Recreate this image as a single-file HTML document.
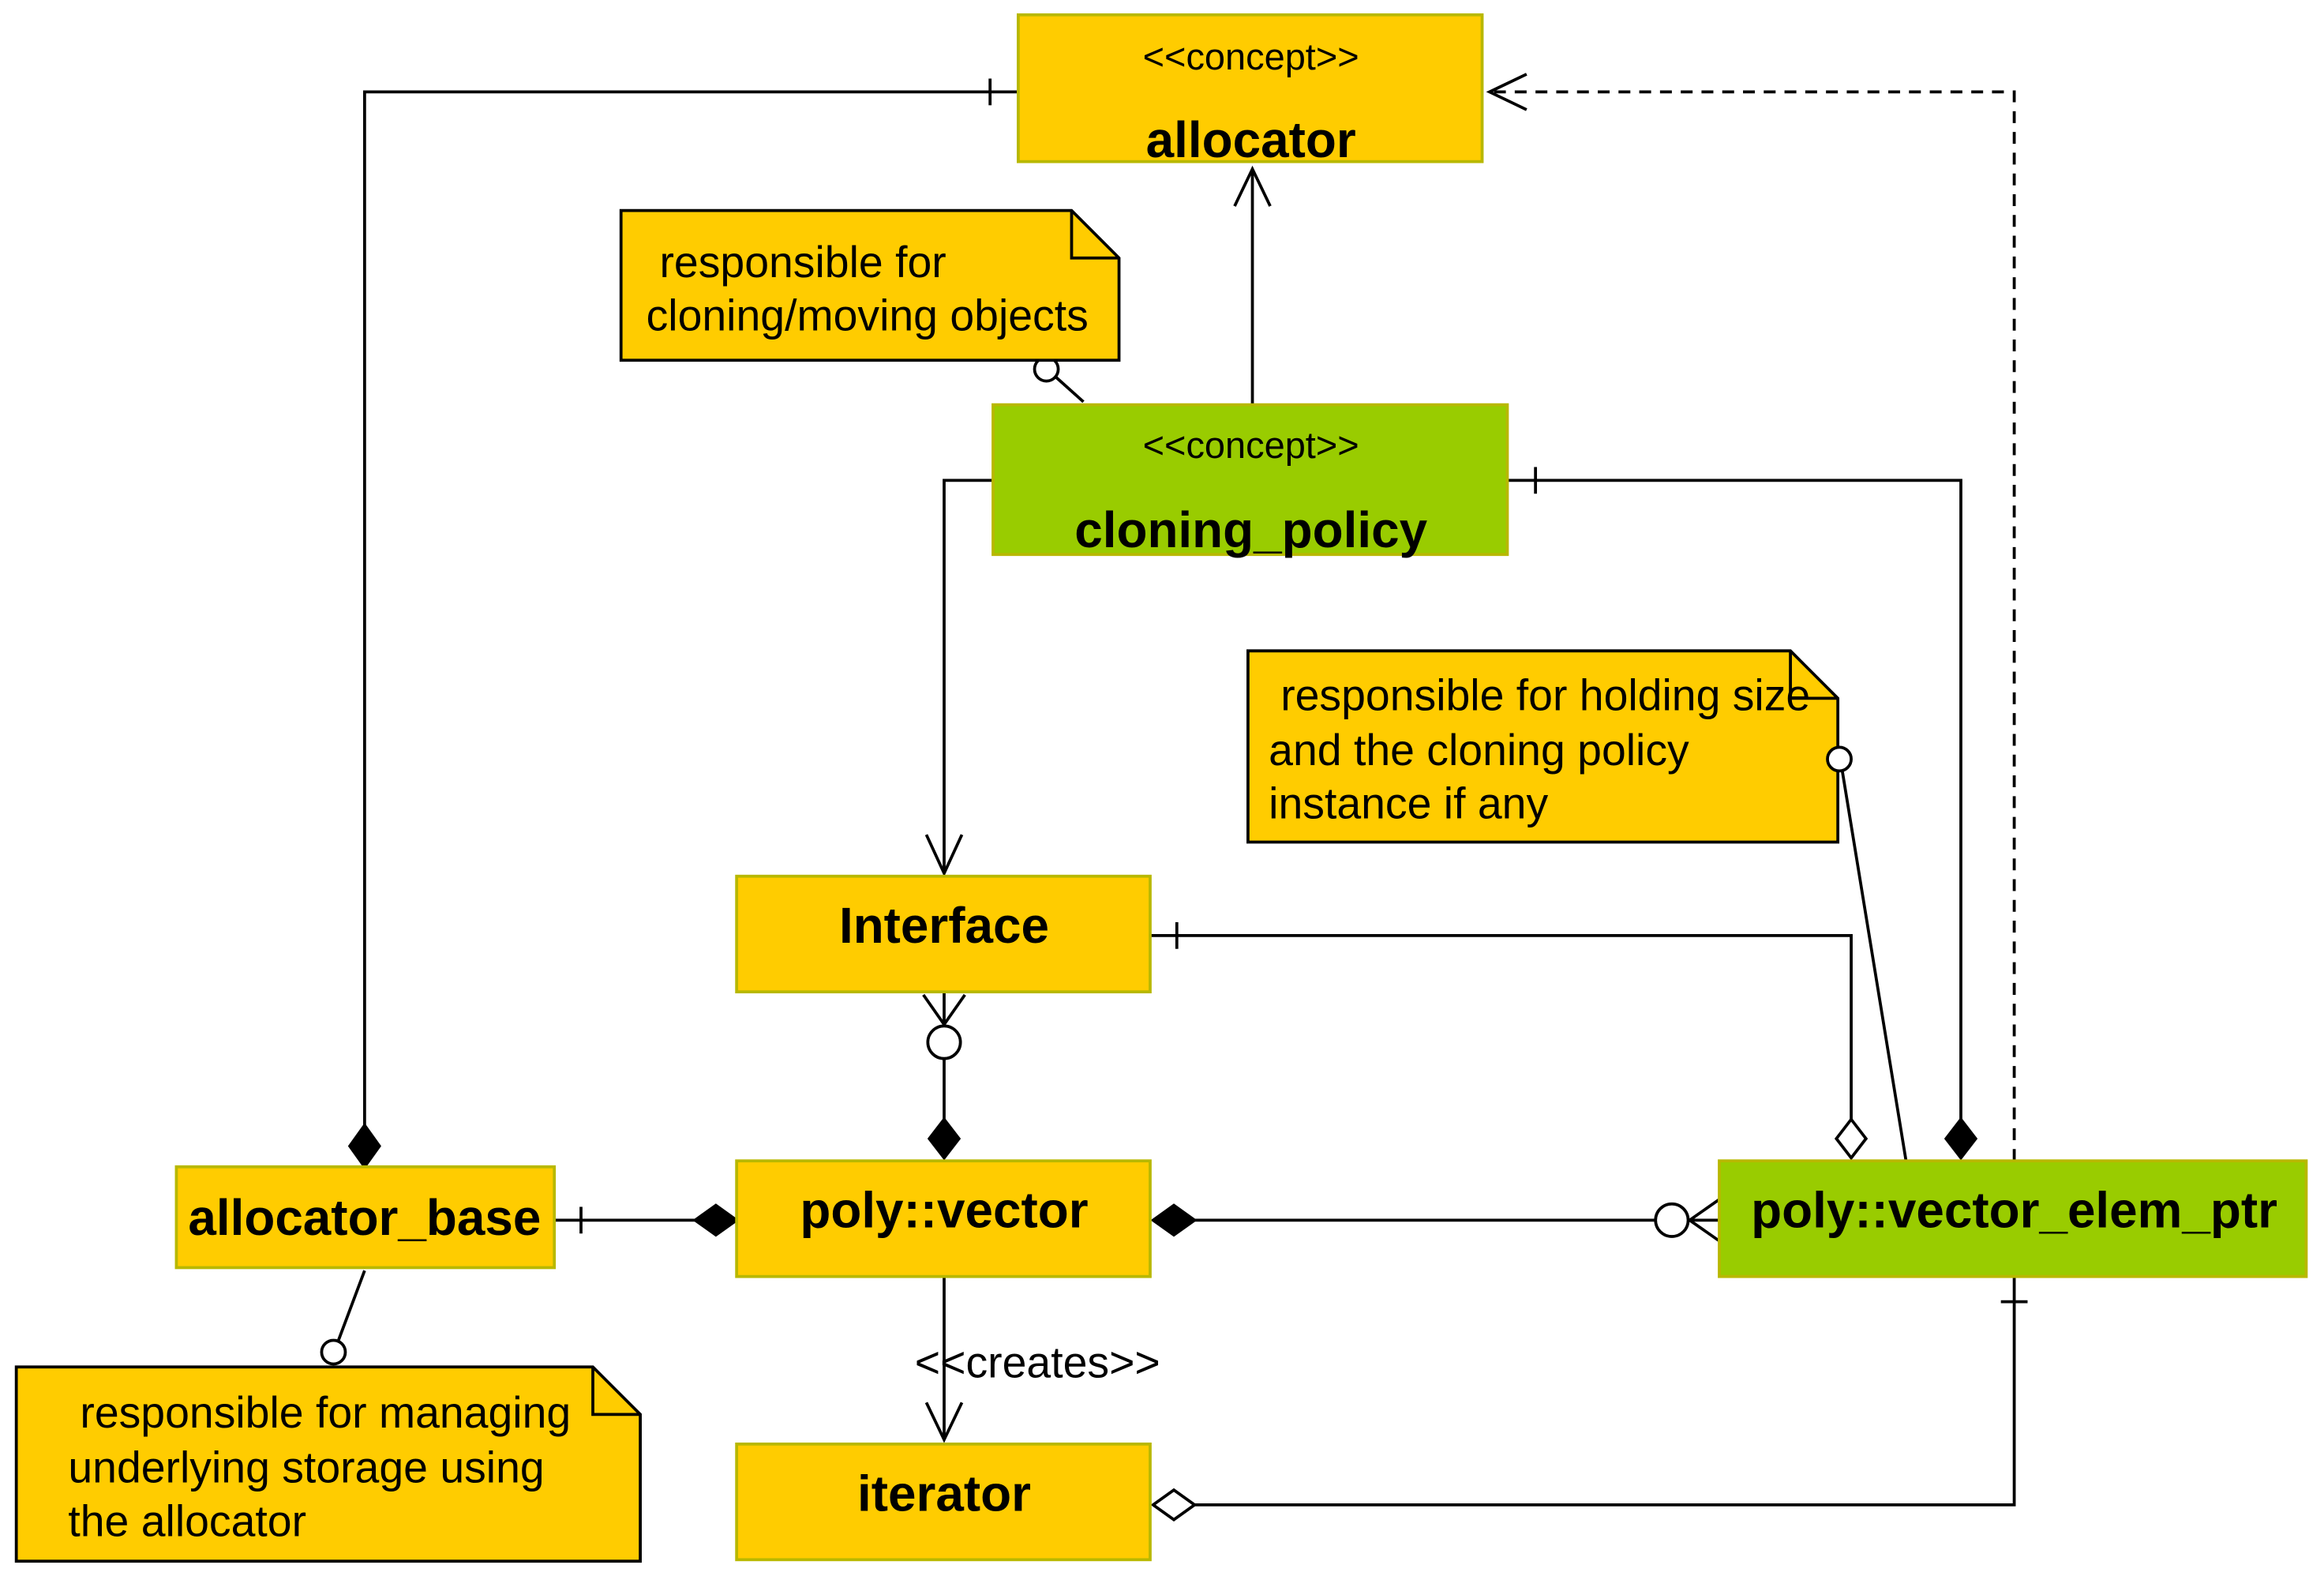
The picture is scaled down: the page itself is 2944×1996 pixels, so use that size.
<!DOCTYPE html>
<html><head><meta charset="utf-8"><style>
html,body{margin:0;padding:0;background:#fff;}
svg{display:block;}
text{font-family:"Liberation Sans",Arial,sans-serif;fill:#000;}
</style></head><body>
<svg width="2944" height="1996" viewBox="0 0 1568 1063" preserveAspectRatio="none" xmlns="http://www.w3.org/2000/svg">
<g stroke="#000" stroke-width="2" fill="none">
<polyline points="246,760 246,62 687,62"/>
<line x1="668" y1="53" x2="668" y2="71"/>
<polygon points="246,787 236,773 246,759 256,773" fill="#000"/>
<polyline points="1359,783 1359,62 1004,62" stroke-dasharray="8,6"/>
<polyline points="1030,50 1005,62 1030,74"/>
<line x1="845" y1="273" x2="845" y2="114"/>
<polyline points="833,139 845,114 857,139"/>
<line x1="712" y1="254" x2="731" y2="271"/>
<circle cx="706" cy="249" r="8" fill="#fff"/>
<polyline points="670,324 637,324 637,589"/>
<polyline points="625,563 637,589 649,563"/>
<polyline points="1017,324 1323,324 1323,755"/>
<line x1="1036" y1="315" x2="1036" y2="333"/>
<polygon points="1323,781 1313,768 1323,755 1333,768" fill="#000"/>
<line x1="1243" y1="520" x2="1286" y2="783"/>
<polyline points="776,631 1249,631 1249,755"/>
<line x1="794" y1="622" x2="794" y2="640"/>
<polygon points="1249,781 1239,768 1249,755 1259,768" fill="#fff"/>
<line x1="637" y1="669" x2="637" y2="755"/>
<polyline points="623,671 637,691 651,671"/>
<circle cx="637" cy="703" r="11" fill="#fff"/>
<polygon points="637,781 627,768 637,755 647,768" fill="#000"/>
<line x1="374" y1="823" x2="469" y2="823"/>
<line x1="392" y1="814" x2="392" y2="832"/>
<polygon points="497,823 483,813 469,823 483,833" fill="#000"/>
<line x1="806" y1="823" x2="1160" y2="823"/>
<polygon points="778,823 792,813 806,823 792,833" fill="#000"/>
<circle cx="1128" cy="823" r="11" fill="#fff"/>
<polyline points="1160,809 1140,823 1160,837"/>
<line x1="637" y1="861" x2="637" y2="971"/>
<polyline points="625,946 637,971 649,946"/>
<polyline points="1359,861 1359,1015 806,1015"/>
<line x1="1350" y1="878" x2="1368" y2="878"/>
<polygon points="778,1015 792,1005 806,1015 792,1025" fill="#fff"/>
<line x1="246" y1="857" x2="228" y2="905"/>
<circle cx="225" cy="912" r="8" fill="#fff"/>
</g>
<g stroke="#b8b800" stroke-width="2">
<rect x="687" y="10" width="313" height="99" fill="#ffcc00"/>
<rect x="670" y="273" width="347" height="101" fill="#99cc00"/>
<rect x="497" y="591" width="279" height="78" fill="#ffcc00"/>
<rect x="119" y="787" width="255" height="68" fill="#ffcc00"/>
<rect x="497" y="783" width="279" height="78" fill="#ffcc00"/>
<rect x="1160" y="783" width="396" height="78" fill="#99cc00"/>
<rect x="497" y="974" width="279" height="78" fill="#ffcc00"/>
</g>
<g stroke="#000" stroke-width="2">
<path d="M419,142 L723,142 L755,174 L755,243 L419,243 Z" fill="#ffcc00"/>
<path d="M723,142 L723,174 L755,174" fill="none"/>
<path d="M842,439 L1208,439 L1240,471 L1240,568 L842,568 Z" fill="#ffcc00"/>
<path d="M1208,439 L1208,471 L1240,471" fill="none"/>
<path d="M11,922 L400,922 L432,954 L432,1053 L11,1053 Z" fill="#ffcc00"/>
<path d="M400,922 L400,954 L432,954" fill="none"/>
</g>
<circle cx="1241" cy="512" r="8" fill="#fff" stroke="#000" stroke-width="2"/>
<g text-anchor="middle">
<text x="844" y="47" font-size="25">&lt;&lt;concept&gt;&gt;</text>
<text x="844" y="106" font-size="34" font-weight="bold">allocator</text>
<text x="844" y="309" font-size="25">&lt;&lt;concept&gt;&gt;</text>
<text x="844" y="369" font-size="34" font-weight="bold">cloning_policy</text>
<text x="637" y="636" font-size="34" font-weight="bold">Interface</text>
<text x="246" y="833" font-size="34" font-weight="bold">allocator_base</text>
<text x="637" y="828" font-size="34" font-weight="bold">poly::vector</text>
<text x="1359" y="828" font-size="34" font-weight="bold">poly::vector_elem_ptr</text>
<text x="637" y="1019" font-size="34" font-weight="bold">iterator</text>
<text x="700" y="929" font-size="29.5">&lt;&lt;creates&gt;&gt;</text>
</g>
<g font-size="29.5">
<text x="445" y="187">responsible for</text>
<text x="436" y="223">cloning/moving objects</text>
<text x="864" y="479">responsible for holding size</text>
<text x="856" y="516">and the cloning policy</text>
<text x="856" y="552">instance if any</text>
<text x="54" y="963">responsible for managing</text>
<text x="46" y="1000">underlying storage using</text>
<text x="46" y="1036">the allocator</text>
</g>
</svg>
</body></html>
